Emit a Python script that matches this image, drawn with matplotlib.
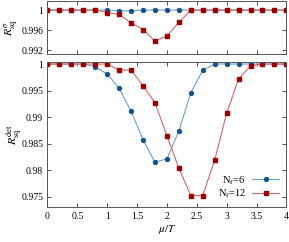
import matplotlib
matplotlib.use("Agg")
import matplotlib.pyplot as plt

plt.rcParams['font.family'] = ['Liberation Serif', 'DejaVu Serif']
plt.rcParams['mathtext.fontset'] = 'stix'
plt.rcParams['font.size'] = 7

mu = [0.0, 0.2, 0.4, 0.6, 0.8, 1.0, 1.2, 1.4, 1.6, 1.8, 2.0,
      2.2, 2.4, 2.6, 2.8, 3.0, 3.2, 3.4, 3.6, 3.8, 4.0]

# top panel: R_sq^sigma
sig_nf6 = [1, 1, 1, 1, 1, 1, 0.99985, 0.99985, 1, 1, 1,
           1, 1, 1, 1, 1, 1, 1, 1, 1, 1]
sig_nf12 = [1, 1, 1, 1, 1, 0.9995, 0.99914, 0.99746, 0.99614, 0.99386, 0.99486,
            0.99754, 1, 1, 1, 1, 1, 1, 1, 1, 1]

# bottom panel: R_sq^det
det_nf6 = [1, 1, 1, 1, 0.9995, 0.9981, 0.99543, 0.99111, 0.98571, 0.98152, 0.98214,
           0.98735, 0.9946, 0.99882, 1, 1, 1, 1, 1, 1, 1]
det_nf12 = [1, 1, 1, 1, 1, 1, 0.99887, 0.99887, 0.99592, 0.99272, 0.98652,
            0.98039, 0.97524, 0.97524, 0.9819, 0.99073, 0.99718, 0.99968, 1, 1, 1]

xticks = [0, 0.5, 1, 1.5, 2, 2.5, 3, 3.5, 4]

blue_l, blue_m = '#6a9fd0', '#14528f'
red_l, red_m = '#d06868', '#9a0000'

fig = plt.figure(figsize=(2.89, 2.42), dpi=100)
ax1 = fig.add_axes([0.164, 0.775, 0.827, 0.221])
ax2 = fig.add_axes([0.164, 0.143, 0.827, 0.599])

for ax in (ax1, ax2):
    ax.tick_params(direction='in', top=True, right=True, length=3, width=0.6,
                   colors='#333333', labelcolor='black', pad=3)
    for s in ax.spines.values():
        s.set_linewidth(0.7)
        s.set_color('#555555')
    ax.set_xlim(0, 4)
    ax.set_xticks(xticks)

ax1.plot(mu, sig_nf6, '-o', color=blue_l, lw=0.8, ms=2.8,
         mfc=blue_m, mec=blue_m)
ax1.plot(mu, sig_nf12, '-s', color=red_l, lw=0.8, ms=3,
         mfc=red_m, mec=red_m)
ax1.set_ylim(0.9912, 1.0018)
ax1.set_yticks([0.992, 0.996, 1])
ax1.set_yticklabels(['0.992', '0.996', '1'])
ax1.set_xticklabels([])
ax1.set_ylabel(r'$R^{\sigma}_{\mathrm{sq}}$', fontsize=8.5)
ax1.yaxis.set_label_coords(-0.115, 0.5)

ax2.plot(mu, det_nf6, '-o', color=blue_l, lw=0.8, ms=2.8,
         mfc=blue_m, mec=blue_m, label=r'N$_\mathrm{f}$=6')
ax2.plot(mu, det_nf12, '-s', color=red_l, lw=0.8, ms=3,
         mfc=red_m, mec=red_m, label=r'N$_\mathrm{f}$=12')
ax2.set_ylim(0.973, 1.0003)
ax2.set_yticks([0.975, 0.98, 0.985, 0.99, 0.995, 1])
ax2.set_yticklabels(['0.975', '0.98', '0.985', '0.99', '0.995', '1'])
ax2.set_xticklabels(['0', '0.5', '1', '1.5', '2', '2.5', '3', '3.5', '4'])
ax2.set_ylabel(r'$R^{\mathrm{det}}_{\mathrm{sq}}$', fontsize=8.5)
ax2.yaxis.set_label_coords(-0.1, 0.5)
ax2.set_xlabel(r'$\mu/T$', fontsize=8, labelpad=2)

ax2.legend(loc='lower right', frameon=False, markerfirst=False,
           handlelength=2.6, handletextpad=0.6, labelspacing=0.1,
           borderaxespad=0.3, fontsize=7.5)

fig.savefig('out.png', dpi=100)
